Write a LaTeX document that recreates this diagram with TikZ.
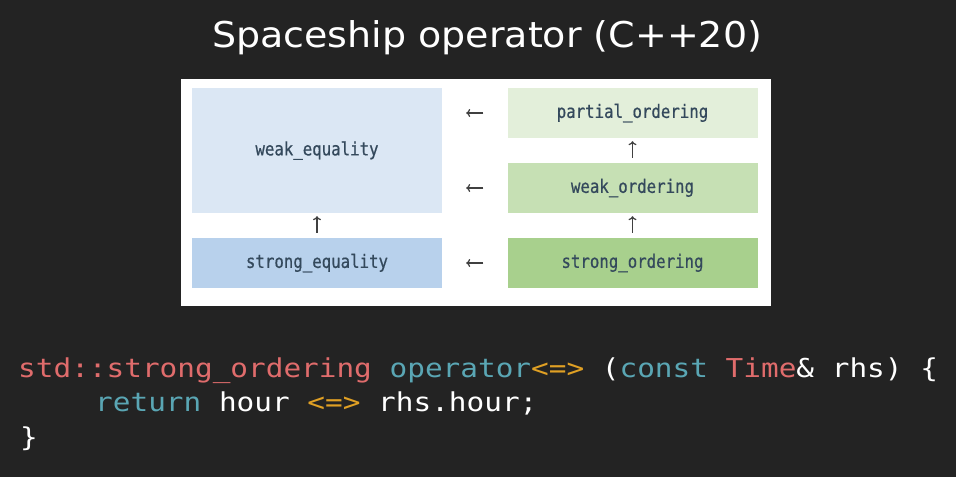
\documentclass[tikz,border=0pt]{standalone}
\usepackage{fontspec}
\usepackage{xcolor}
\usetikzlibrary{arrows.meta,positioning}
\newfontfamily\titlefont[FakeStretch=1.07]{DejaVu Sans}
\newfontfamily\codefont[FakeStretch=1.13]{DejaVu Sans Mono}
\newfontfamily\boxfont[FakeStretch=0.85,FakeBold=0.6]{DejaVu Sans Mono}
\definecolor{bg}{HTML}{232323}
\definecolor{eqlight}{HTML}{DBE7F4}
\definecolor{eqdark}{HTML}{B8D1EC}
\definecolor{ordpale}{HTML}{E3EFDA}
\definecolor{ordmid}{HTML}{C6E0B4}
\definecolor{orddark}{HTML}{A8D08D}
\definecolor{boxtext}{HTML}{34495C}
\definecolor{kwred}{HTML}{E06C6C}
\definecolor{kwteal}{HTML}{5AA6B4}
\definecolor{kworange}{HTML}{E0A024}
\tikzset{
  cat/.style={minimum width=250pt,minimum height=50pt,inner sep=0pt,font=\boxfont\fontsize{18.5}{20}\selectfont,text=boxtext},
  arr/.style={-{To[length=4pt,width=8pt]},line width=1.2pt,draw=black!75},
  code/.style={anchor=base west,inner sep=0pt,text=white,font=\codefont\fontsize{26}{32}\selectfont}
}
\begin{document}
\begin{tikzpicture}[x=1pt,y=-1pt]
\fill[bg] (0,0) rectangle (956,477);
\node[anchor=base,text=white,font=\titlefont\fontsize{35.5}{40}\selectfont] (title) at (487,47) {Spaceship operator (C++20)};
\fill[white] (181,79) rectangle (771,306);
% equality
\node[cat,fill=eqlight,minimum height=125pt] (weq) at (317,150.5) {weak\_equality};
\node[cat,fill=eqdark] (seq) at (317,263) {strong\_equality};
% ordering
\node[cat,fill=ordpale] (po) at (632.5,113) {partial\_ordering};
\node[cat,fill=ordmid] (wo) at (632.5,188) {weak\_ordering};
\node[cat,fill=orddark] (so) at (632.5,263) {strong\_ordering};
\draw[arr,shorten <=24pt,shorten >=24pt] (po.west) -- (weq.east |- po.west);
\draw[arr,shorten <=24pt,shorten >=24pt] (wo.west) -- (weq.east |- wo.west);
\draw[arr,shorten <=24pt,shorten >=24pt] (so.west) -- (seq.east);
\draw[arr,shorten <=5pt,shorten >=3pt] (wo.north) -- (po.south);
\draw[arr,shorten <=5pt,shorten >=3pt] (so.north) -- (wo.south);
\draw[arr,shorten <=5pt,shorten >=3pt] (seq.north) -- (weq.south);
% code
\node[code] (line1) at (18,377) {\textcolor{kwred}{std::strong\_ordering} \textcolor{kwteal}{operator}\textcolor{kworange}{<=>} (\textcolor{kwteal}{const} \textcolor{kwred}{Time}\& rhs) \{};
\node[code] (line2) at (95,411) {\textcolor{kwteal}{return} hour \textcolor{kworange}{<=>} rhs.hour;};
\node[code] (line3) at (20,446) {\}};
\end{tikzpicture}
\end{document}
